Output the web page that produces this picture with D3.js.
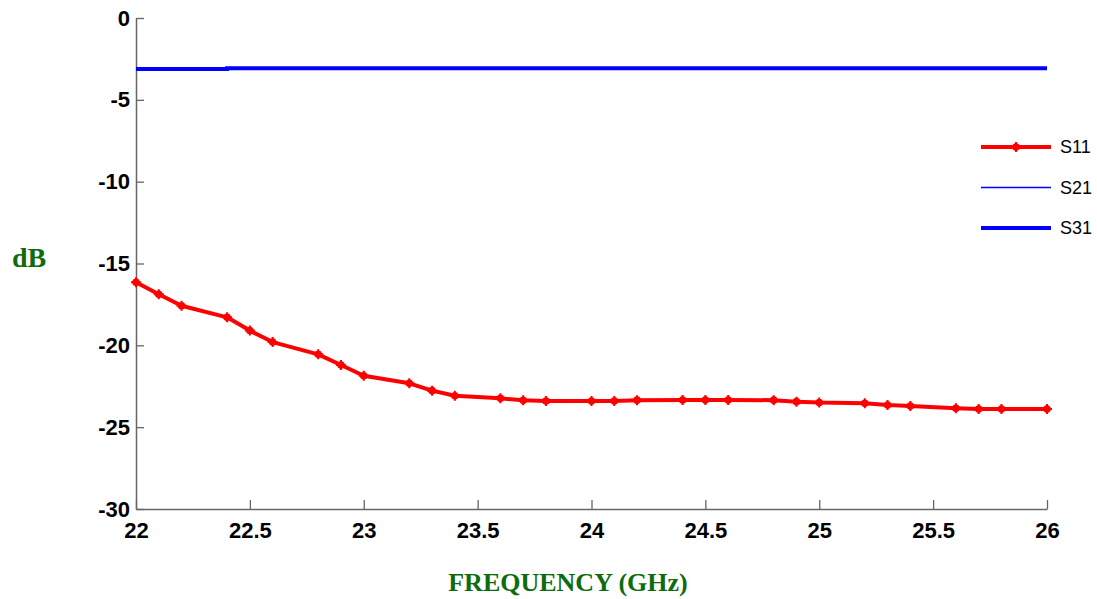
<!DOCTYPE html>
<html>
<head>
<meta charset="utf-8">
<script src="https://cdn.jsdelivr.net/npm/d3@7"></script>
<style>
    body { margin: 0; background: #fff; }
    svg { display: block; }
</style>
</head>
<body>
<svg id="chart" width="1097" height="599"></svg>
<script>
// données
const freq = [22, 22.1, 22.2, 22.4, 22.5, 22.6, 22.8, 22.9, 23.0, 23.2, 23.3, 23.4, 23.6, 23.7, 23.8,
    24.0, 24.1, 24.2, 24.4, 24.5, 24.6, 24.8, 24.9, 25.0, 25.2, 25.3, 25.4, 25.6, 25.7, 25.8, 26.0];
const s11 = [-16.15, -16.88, -17.58, -18.29, -19.1, -19.8, -20.55, -21.2, -21.86, -22.32, -22.77, -23.08,
    -23.24, -23.36, -23.4, -23.4, -23.4, -23.35, -23.34, -23.34, -23.34, -23.35, -23.44, -23.5, -23.54,
    -23.65, -23.71, -23.85, -23.89, -23.89, -23.89];
const freqS = [22, 22.4, 22.4, 26];
const s21 = [-3.12, -3.12, -3.07, -3.07];
const s31 = [-3.12, -3.12, -3.07, -3.07];
const xTicks = [22, 22.5, 23, 23.5, 24, 24.5, 25, 25.5, 26];
const yTicks = [0, -5, -10, -15, -20, -25, -30];
const legendNames = ['S11', 'S21', 'S31'];

const svg = d3.select('#chart');
const x = d3.scaleLinear().domain([22, 26]).range([136, 1047]);
const y = d3.scaleLinear().domain([-30, 0]).range([509, 18]);
const tickFont = 'bold 22px "Liberation Sans", Arial, sans-serif';
const labelFont = 'bold 26px "Liberation Serif", "Times New Roman", serif';
const green = '#0e6b0e';

// axes (ticks vers l'intérieur, pas de cadre)
const gx = svg.append('g').attr('transform', `translate(0,${y(-30)})`)
    .call(d3.axisBottom(x).tickValues(xTicks).tickFormat(d3.format('')).tickSizeInner(-9).tickSizeOuter(0).tickPadding(13));
const gy = svg.append('g').attr('transform', `translate(${x(22)},0)`)
    .call(d3.axisLeft(y).tickValues(yTicks).tickFormat(d => d).tickSizeInner(-8).tickSizeOuter(0).tickPadding(6));
[gx, gy].forEach(g => {
    g.select('.domain').attr('stroke', '#666').attr('stroke-width', 1.5);
    g.selectAll('.tick line').attr('stroke', '#666').attr('stroke-width', 1.3);
    g.selectAll('.tick text').style('font', tickFont).attr('fill', '#000');
});
gx.selectAll('.tick text').attr('dy', '0.71em');

// courbes
const line = d3.line().x(d => x(d[0])).y(d => y(d[1]));
svg.append('path').datum(d3.zip(freqS, s21)).attr('d', line)
    .attr('fill', 'none').attr('stroke', '#0000ff').attr('stroke-width', 1.5);
svg.append('path').datum(d3.zip(freqS, s31)).attr('d', line)
    .attr('fill', 'none').attr('stroke', '#0000ff').attr('stroke-width', 4);
svg.append('path').datum(d3.zip(freq, s11)).attr('d', line)
    .attr('fill', 'none').attr('stroke', '#ff0000').attr('stroke-width', 4).attr('stroke-linejoin', 'round');

function marker(g, cx, cy) {
    g.append('circle').attr('cx', cx).attr('cy', cy).attr('r', 3.8).attr('fill', '#ff0000');
    g.append('path').attr('d', `M${cx - 5},${cy}H${cx + 5}M${cx},${cy - 5}V${cy + 5}`)
        .attr('stroke', '#ff0000').attr('stroke-width', 2);
}
const gm = svg.append('g');
d3.zip(freq, s11).forEach(d => marker(gm, x(d[0]), y(d[1])));

// légende
const legend = svg.append('g');
const legStyles = [
    {c: '#ff0000', w: 4, m: true},
    {c: '#0000ff', w: 1.5, m: false},
    {c: '#0000ff', w: 4, m: false}
];
legendNames.forEach((n, i) => {
    let ly = 147 + i * 40.5, s = legStyles[i];
    legend.append('line').attr('x1', 981).attr('x2', 1051).attr('y1', ly).attr('y2', ly)
        .attr('stroke', s.c).attr('stroke-width', s.w);
    if (s.m) marker(legend, 1016, ly);
    legend.append('text').attr('x', 1060).attr('y', ly).attr('dy', '0.36em')
        .style('font', '18px "Liberation Sans", Arial, sans-serif').text(n);
});

// titres des axes
svg.append('text').attr('x', 568).attr('y', 591).attr('text-anchor', 'middle')
    .style('font', labelFont).attr('fill', green).text('FREQUENCY (GHz)');
svg.append('text').attr('x', 29).attr('y', 267).attr('text-anchor', 'middle')
    .style('font', 'bold 28px "Liberation Serif", "Times New Roman", serif').attr('fill', green).text('dB');
</script>
</body>
</html>
